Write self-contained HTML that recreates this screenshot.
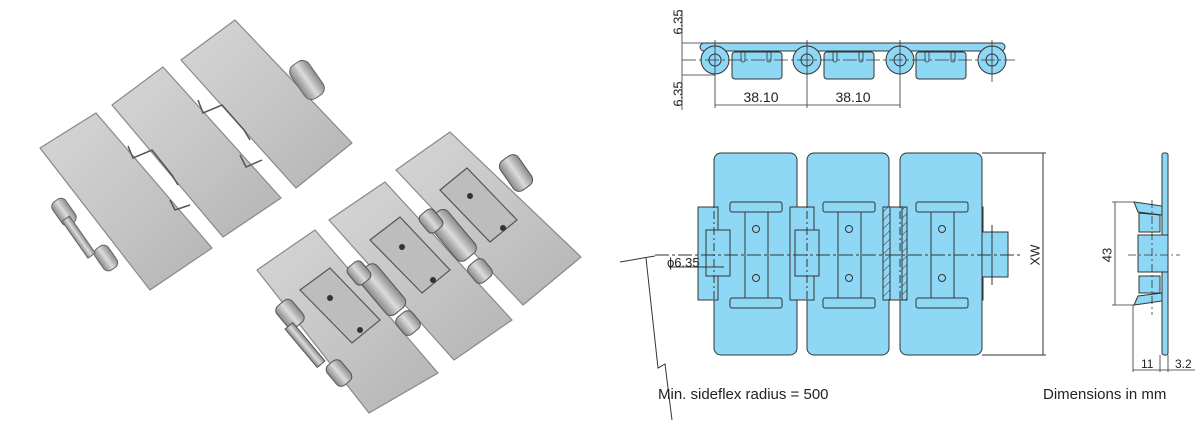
<!DOCTYPE html>
<html><head><meta charset="utf-8"><style>
html,body{margin:0;padding:0;background:#fff;}
svg{display:block;}
text{font-family:"Liberation Sans",sans-serif;fill:#222;}
</style></head><body>
<svg width="1195" height="434" viewBox="0 0 1195 434" xmlns="http://www.w3.org/2000/svg">
<defs>
<linearGradient id="steel" x1="0" y1="0" x2="1" y2="1">
<stop offset="0" stop-color="#d6d6d6"/><stop offset="0.5" stop-color="#c6c6c6"/><stop offset="1" stop-color="#b4b4b4"/>
</linearGradient>
<linearGradient id="roll" x1="0" y1="0" x2="1" y2="0">
<stop offset="0" stop-color="#888"/><stop offset="0.5" stop-color="#dcdcdc"/><stop offset="1" stop-color="#8a8a8a"/>
</linearGradient>
<pattern id="hatch" width="6" height="6" patternUnits="userSpaceOnUse" patternTransform="rotate(45)">
<rect width="6" height="6" fill="#8fd8f5"/><line x1="0" y1="0" x2="0" y2="6" stroke="#333" stroke-width="1"/>
</pattern>
</defs>

<!-- PHOTO: upper chain -->
<g stroke="#888" stroke-width="1.2" stroke-linejoin="round" fill="url(#steel)">
<polygon points="181,60 235,20 352,143 296,188"/>
<polygon points="112,105 163,67 281,198 223,237"/>
<polygon points="40,148 96,113 212,248 150,290"/>
</g>
<g stroke="#555" stroke-width="1.5" fill="none">
<polyline points="128,146 133,158 152,150 172,175 178,185"/>
<polyline points="198,100 203,113 222,105 244,130 250,140"/>
<polyline points="170,200 175,210 190,205"/>
<polyline points="240,155 246,167 262,160"/>
</g>
<rect x="296" y="60" width="22" height="40" rx="8" fill="url(#roll)" stroke="#666" transform="rotate(-35 307 80)"/>
<rect x="56" y="198" width="16" height="28" rx="6" fill="url(#roll)" stroke="#666" transform="rotate(-35 64 212)"/>
<rect x="74" y="215" width="9" height="45" fill="url(#roll)" stroke="#666" transform="rotate(-35 78 237)"/>
<rect x="98" y="245" width="16" height="26" rx="6" fill="url(#roll)" stroke="#666" transform="rotate(-35 106 258)"/>

<!-- PHOTO: lower chain -->
<g stroke="#888" stroke-width="1.2" stroke-linejoin="round" fill="url(#steel)">
<polygon points="396,170 450,132 581,257 523,305"/>
<polygon points="329,220 385,182 512,320 454,360"/>
<polygon points="257,270 315,230 438,373 369,413"/>
</g>
<g fill="#bdbdbd" stroke="#555" stroke-width="1.2">
<polygon points="300,290 330,268 380,320 352,343"/>
<polygon points="370,240 400,217 450,270 422,293"/>
<polygon points="440,190 467,168 517,220 490,242"/>
</g>
<g fill="url(#roll)" stroke="#555" stroke-width="1">
<rect x="280" y="300" width="20" height="28" rx="6" transform="rotate(-40 290 314)"/>
<rect x="300" y="320" width="10" height="50" transform="rotate(-40 305 345)"/>
<rect x="330" y="360" width="18" height="26" rx="6" transform="rotate(-40 339 373)"/>
<rect x="370" y="262" width="24" height="55" rx="7" transform="rotate(-40 382 290)"/>
<rect x="440" y="208" width="24" height="55" rx="7" transform="rotate(-40 452 235)"/>
<rect x="505" y="155" width="22" height="36" rx="7" transform="rotate(-35 516 173)"/>
<rect x="350" y="262" width="18" height="22" rx="5" transform="rotate(-40 359 273)"/>
<rect x="398" y="312" width="20" height="22" rx="6" transform="rotate(-40 408 323)"/>
<rect x="422" y="210" width="18" height="22" rx="5" transform="rotate(-40 431 221)"/>
<rect x="470" y="260" width="20" height="22" rx="6" transform="rotate(-40 480 271)"/>
</g>
<g fill="#333">
<circle cx="330" cy="298" r="3"/><circle cx="360" cy="330" r="3"/>
<circle cx="402" cy="247" r="3"/><circle cx="433" cy="280" r="3"/>
<circle cx="470" cy="196" r="3"/><circle cx="503" cy="228" r="3"/>
</g>

<!-- TOP VIEW -->
<g stroke="#333" stroke-width="1" fill="#8fd8f5">
<rect x="732" y="52" width="50" height="27" rx="3"/>
<rect x="824" y="52" width="50" height="27" rx="3"/>
<rect x="916" y="52" width="50" height="27" rx="3"/>
<rect x="700" y="43" width="305" height="8" rx="4"/>
<circle cx="715" cy="60" r="14"/><circle cx="807" cy="60" r="14"/><circle cx="900" cy="60" r="14"/><circle cx="992" cy="60" r="14"/>
<circle cx="715" cy="60" r="6"/><circle cx="807" cy="60" r="6"/><circle cx="900" cy="60" r="6"/><circle cx="992" cy="60" r="6"/>
</g>
<g stroke="#333" stroke-width="0.8" fill="none">
<path d="M741 52v8a2 2 0 0 0 4 0v-8M767 52v8a2 2 0 0 0 4 0v-8"/>
<path d="M833 52v8a2 2 0 0 0 4 0v-8M859 52v8a2 2 0 0 0 4 0v-8"/>
<path d="M925 52v8a2 2 0 0 0 4 0v-8M951 52v8a2 2 0 0 0 4 0v-8"/>
<line x1="682" y1="10" x2="682" y2="110"/>
<line x1="682" y1="43" x2="715" y2="43"/>
<line x1="682" y1="75" x2="715" y2="75"/>
<line x1="682" y1="60" x2="1015" y2="60" stroke-dasharray="14,3,3,3"/>
<line x1="715" y1="40" x2="715" y2="108"/><line x1="807" y1="40" x2="807" y2="108"/><line x1="900" y1="40" x2="900" y2="108"/><line x1="992" y1="40" x2="992" y2="82"/>
<line x1="715" y1="105" x2="900" y2="105"/>
</g>
<text x="678" y="22" font-size="13" transform="rotate(-90 678 22)" text-anchor="middle" dominant-baseline="central">6.35</text>
<text x="678" y="94" font-size="13" transform="rotate(-90 678 94)" text-anchor="middle" dominant-baseline="central">6.35</text>
<text x="761" y="102" font-size="14" text-anchor="middle">38.10</text>
<text x="853" y="102" font-size="14" text-anchor="middle">38.10</text>

<!-- MIDDLE VIEW -->
<g stroke="#333" stroke-width="1" fill="#8fd8f5">
<rect x="698" y="207" width="285" height="93"/>
<rect x="975" y="232" width="33" height="45"/>
<rect x="714" y="153" width="83" height="202" rx="7"/>
<rect x="807" y="153" width="82" height="202" rx="7"/>
<rect x="900" y="153" width="82" height="202" rx="7"/>
<rect x="698" y="207" width="20" height="93"/>
<rect x="790" y="207" width="24" height="93"/>
<rect x="883" y="207" width="24" height="93" fill="url(#hatch)"/>
<rect x="890" y="207" width="12" height="93"/>
</g>
<g stroke="#333" stroke-width="1" fill="#8fd8f5">
<rect x="706" y="230" width="24" height="46"/>
<rect x="795" y="230" width="24" height="46"/>
</g>
<g stroke="#333" stroke-width="1" fill="none">
<g id="lug">
<rect x="730" y="202" width="52" height="10" rx="2"/>
<rect x="730" y="298" width="52" height="10" rx="2"/>
<line x1="745" y1="212" x2="745" y2="298"/><line x1="768" y1="212" x2="768" y2="298"/>
<circle cx="756" cy="229" r="3.5"/><circle cx="756" cy="278" r="3.5"/>
</g>
<use href="#lug" x="93"/><use href="#lug" x="186"/>
<line x1="655" y1="255" x2="1020" y2="255" stroke-dasharray="14,3,3,3"/>
<line x1="714" y1="195" x2="714" y2="310" stroke-dasharray="8,3,2,3"/>
<line x1="807" y1="195" x2="807" y2="310" stroke-dasharray="8,3,2,3"/>
<line x1="900" y1="195" x2="900" y2="310" stroke-dasharray="8,3,2,3"/>
<line x1="992" y1="225" x2="992" y2="285"/>
<line x1="982" y1="153" x2="1046" y2="153"/><line x1="982" y1="355" x2="1046" y2="355"/>
<line x1="1043" y1="153" x2="1043" y2="355"/>
<line x1="669" y1="267" x2="724" y2="267"/>
<path d="M620 262 L655 256 M646 258 L658 368 L665 364 L672 420"/>
</g>
<text x="1035" y="255" font-size="13" transform="rotate(-90 1035 255)" text-anchor="middle" dominant-baseline="central">XW</text>
<text x="667" y="267" font-size="13">ϕ6.35</text>
<text x="658" y="399" font-size="15">Min. sideflex radius = 500</text>

<!-- SIDE VIEW -->
<g stroke="#333" stroke-width="1" fill="#8fd8f5">
<rect x="1162" y="153" width="6" height="202" rx="2"/>
<polygon points="1134,202 1162,206 1162,215 1138,212"/>
<polygon points="1139,213 1160,215 1160,232 1139,232"/>
<polygon points="1138,235 1168,235 1168,272 1138,272"/>
<polygon points="1139,276 1160,276 1160,293 1139,293"/>
<polygon points="1134,305 1162,301 1162,293 1138,296"/>
</g>
<g stroke="#333" stroke-width="0.8" fill="none">
<line x1="1112" y1="202" x2="1134" y2="202"/><line x1="1112" y1="305" x2="1134" y2="305"/>
<line x1="1115" y1="202" x2="1115" y2="305"/>
<line x1="1128" y1="255" x2="1180" y2="255" stroke-dasharray="8,3,2,3"/>
<line x1="1152" y1="200" x2="1152" y2="315" stroke-dasharray="8,3,2,3"/>
<line x1="1133" y1="305" x2="1133" y2="372"/>
<line x1="1160" y1="355" x2="1160" y2="372"/><line x1="1168" y1="355" x2="1168" y2="372"/>
<line x1="1133" y1="370" x2="1195" y2="370"/>
</g>
<text x="1107" y="255" font-size="13" transform="rotate(-90 1107 255)" text-anchor="middle" dominant-baseline="central">43</text>
<text x="1141" y="368" font-size="12">11</text>
<text x="1175" y="368" font-size="12">3.2</text>
<text x="1043" y="399" font-size="15">Dimensions in mm</text>
</svg>
</body></html>
